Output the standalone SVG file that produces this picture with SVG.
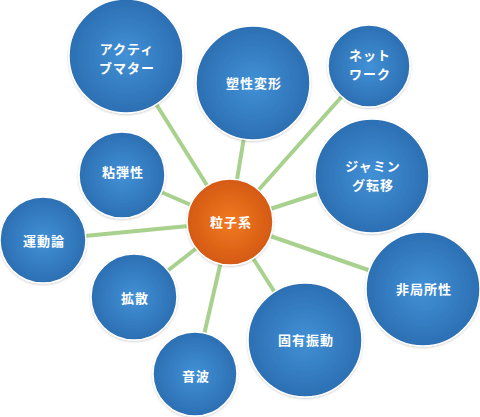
<svg xmlns="http://www.w3.org/2000/svg" width="480" height="417" viewBox="0 0 480 417">
<defs>
<radialGradient id="gb" cx="50%" cy="50%" r="50%">
<stop offset="0" stop-color="#4291d6"/>
<stop offset="1" stop-color="#2c6fb3"/>
</radialGradient>
<radialGradient id="go" cx="50%" cy="50%" r="50%">
<stop offset="0" stop-color="#f27a22"/>
<stop offset="1" stop-color="#d45a12"/>
</radialGradient>
<filter id="sh" x="-10%" y="-10%" width="120%" height="120%">
<feDropShadow dx="0" dy="1" stdDeviation="1" flood-color="#000" flood-opacity="0.2"/>
</filter>
</defs>
<style>
.n{fill:url(#gb);stroke:#ffffff;stroke-width:1.5;filter:url(#sh)}
.c{fill:url(#go);stroke:#ffffff;stroke-width:1.5;filter:url(#sh)}
.t{fill:#ffffff;font-family:"Noto Sans CJK JP","Noto Sans",sans-serif;font-weight:bold;font-size:13px;letter-spacing:1px;text-anchor:middle}
.l{stroke:#a8d18d;stroke-width:4;fill:none}
</style>
<rect width="480" height="417" fill="#ffffff"/>
<g id="connectors">
<line class="l" x1="230" y1="222" x2="126" y2="56"/>
<line class="l" x1="230" y1="222" x2="253" y2="83"/>
<line class="l" x1="230" y1="222" x2="369" y2="66"/>
<line class="l" x1="230" y1="222" x2="372" y2="176"/>
<line class="l" x1="230" y1="222" x2="423" y2="289"/>
<line class="l" x1="230" y1="222" x2="305" y2="340"/>
<line class="l" x1="230" y1="222" x2="195" y2="374"/>
<line class="l" x1="230" y1="222" x2="134" y2="297"/>
<line class="l" x1="230" y1="222" x2="43" y2="240"/>
<line class="l" x1="230" y1="222" x2="122" y2="175"/>
</g>
<g id="n-active">
<circle class="n" cx="126" cy="56" r="57"/>
<text class="t" x="127" y="54">アクティ</text>
<text class="t" x="127" y="73">ブマター</text>
</g>
<g id="n-plastic">
<circle class="n" cx="253" cy="83" r="57"/>
<text class="t" x="254" y="88">塑性変形</text>
</g>
<g id="n-network">
<circle class="n" cx="369" cy="66" r="41"/>
<text class="t" x="370" y="60">ネット</text>
<text class="t" x="370" y="79">ワーク</text>
</g>
<g id="n-jamming">
<circle class="n" cx="372" cy="176" r="57"/>
<text class="t" x="373" y="171">ジャミン</text>
<text class="t" x="373" y="190">グ転移</text>
</g>
<g id="n-nonlocal">
<circle class="n" cx="423" cy="289" r="57"/>
<text class="t" x="424" y="294">非局所性</text>
</g>
<g id="n-eigen">
<circle class="n" cx="305" cy="340" r="57"/>
<text class="t" x="306" y="345">固有振動</text>
</g>
<g id="n-sound">
<circle class="n" cx="195" cy="374" r="42"/>
<text class="t" x="196" y="381">音波</text>
</g>
<g id="n-diffusion">
<circle class="n" cx="134" cy="297" r="43"/>
<text class="t" x="135" y="303">拡散</text>
</g>
<g id="n-kinetic">
<circle class="n" cx="43" cy="240" r="43"/>
<text class="t" x="44" y="246">運動論</text>
</g>
<g id="n-visco">
<circle class="n" cx="122" cy="175" r="43"/>
<text class="t" x="123" y="177">粘弾性</text>
</g>
<g id="n-center">
<circle class="c" cx="230" cy="222" r="43"/>
<text class="t" x="231" y="227">粒子系</text>
</g>
</svg>
